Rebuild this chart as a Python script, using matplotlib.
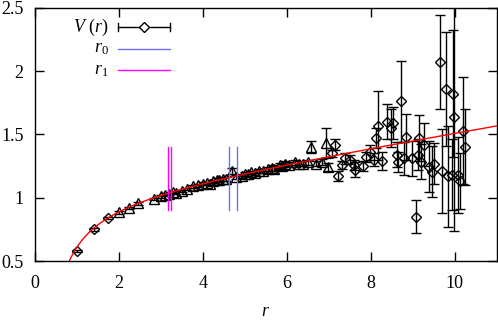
import numpy as np
import matplotlib
matplotlib.use("Agg")
import matplotlib.pyplot as plt

plt.rcParams['font.family'] = ['Liberation Serif', 'DejaVu Serif']
plt.rcParams['mathtext.fontset'] = 'custom'
plt.rcParams['mathtext.rm'] = 'Liberation Serif'
plt.rcParams['mathtext.it'] = 'Liberation Serif:italic'

# V(r) data: diamonds
r_d = [1.00, 1.41, 1.75, 7.07, 7.15, 7.23, 7.31, 7.39, 7.50, 7.60, 7.63, 7.82, 7.89, 7.98,
       8.08, 8.13, 8.18, 8.28, 8.38, 8.48, 8.54, 8.62, 8.66, 8.72, 8.79, 8.84, 8.98, 9.08,
       9.13, 9.16, 9.20, 9.27, 9.39, 9.45, 9.50, 9.65, 9.71, 9.79, 9.85, 9.93, 9.95, 9.99,
       10.09, 10.13, 10.20, 10.25]
v_d = [0.58, 0.75, 0.84, 1.35, 1.42, 1.17, 1.26, 1.31, 1.30, 1.26, 1.22, 1.25, 1.32, 1.36,
       1.30, 1.47, 1.57, 1.29, 1.60, 1.55, 1.59, 1.34, 1.285, 1.76, 1.31, 1.48, 1.31, 0.85,
       1.34, 1.47, 1.285, 1.42, 1.245, 1.205, 1.27, 2.07, 1.21, 1.86, 1.17, 1.18, 1.82, 1.635,
       1.18, 1.13, 1.53, 1.40]
e_d = [0.01, 0.01, 0.01, 0.03, 0.04, 0.04, 0.03, 0.04, 0.035, 0.04, 0.06, 0.04, 0.04, 0.06,
       0.05, 0.08, 0.27, 0.07, 0.14, 0.15, 0.13, 0.10, 0.08, 0.32, 0.13, 0.18, 0.14, 0.13,
       0.12, 0.18, 0.14, 0.17, 0.20, 0.20, 0.16, 0.37, 0.33, 0.45, 0.40, 0.28, 0.50, 0.90,
       0.30, 0.22, 0.42, 0.30]

# triangles
r_t = [2.00, 2.25, 2.45, 2.84, 3.00, 3.10, 3.20, 3.30, 3.36, 3.50, 3.62, 3.78, 3.90, 4.01,
       4.10, 4.17, 4.25, 4.33, 4.40, 4.48, 4.55, 4.69, 4.80, 4.93, 5.00, 5.09, 5.15, 5.25,
       5.35, 5.44, 5.55, 5.64, 5.70, 5.84, 5.90, 5.96, 6.05, 6.20, 6.30, 6.40, 6.50, 6.57,
       6.71, 6.85, 6.94, 6.99]
v_t = [0.885, 0.92, 0.955, 0.99, 1.01, 1.025, 1.03, 1.045, 1.04, 1.055, 1.07, 1.09, 1.10, 1.11,
       1.115, 1.11, 1.13, 1.14, 1.14, 1.15, 1.15, 1.21, 1.165, 1.17, 1.185, 1.19, 1.20, 1.195,
       1.21, 1.21, 1.225, 1.235, 1.23, 1.255, 1.25, 1.27, 1.26, 1.28, 1.27, 1.27, 1.28, 1.40,
       1.27, 1.28, 1.43, 1.245]
e_t = [0.01, 0.01, 0.01, 0.01, 0.01, 0.01, 0.01, 0.01, 0.01, 0.01, 0.01, 0.012, 0.012, 0.012,
       0.012, 0.012, 0.012, 0.012, 0.012, 0.015, 0.015, 0.025, 0.015, 0.015, 0.015, 0.015, 0.015, 0.015,
       0.015, 0.015, 0.015, 0.02, 0.02, 0.02, 0.02, 0.02, 0.02, 0.02, 0.02, 0.02, 0.02, 0.05,
       0.02, 0.025, 0.12, 0.03]

# fit parameters  V(r) = c + s*r - a/r
fit_c, fit_s, fit_a = 1.0025, 0.055, 0.45

r0 = [4.63, 4.81]
r1 = [3.18, 3.245]
vspan = [0.9, 1.4]

fig = plt.figure(figsize=(4.98, 3.2), dpi=100)
ax = fig.add_axes([0.0697, 0.184, 0.9275, 0.792])

ax.errorbar(r_t, v_t, yerr=e_t, fmt='^', mfc='none', mec='black', ecolor='black',
            ms=7, mew=1.0, elinewidth=1.0, capsize=3.6, capthick=1.0, zorder=2)
ax.errorbar(r_d, v_d, yerr=e_d, fmt='D', mfc='none', mec='black', ecolor='black',
            ms=5.5, mew=1.0, elinewidth=1.0, capsize=3.6, capthick=1.0, zorder=2)

rr = np.linspace(0.7, 11.2, 400)
ax.plot(rr, fit_c + fit_s * rr - fit_a / rr, color='#ff0000', lw=1.0, zorder=3)

for x in r0:
    ax.plot([x, x], vspan, color='#7070ff', lw=1.0, zorder=4)
for x in r1:
    ax.plot([x, x], vspan, color='#ff00ff', lw=1.0, zorder=4)

ax.set_xlim(0, 11)
ax.set_ylim(0.5, 2.5)
ax.set_xticks([0, 2, 4, 6, 8, 10])
ax.set_yticks([0.5, 1, 1.5, 2, 2.5])
ax.set_yticklabels(['0.5', '1', '1.5', '2', '2.5'])
ax.tick_params(direction='in', length=6.5, width=1.0, top=True, right=True,
               labelsize=13)
ax.tick_params(axis='x', pad=10)
ax.tick_params(axis='y', pad=8)
for sp in ax.spines.values():
    sp.set_linewidth(1.0)
ax.set_xlabel('$r$', fontsize=13, labelpad=8)

# legend (drawn manually, gnuplot style)
T = ax.transAxes
ys = [0.924, 0.837, 0.754]
labels = ['$V\\ (r)$', '$r_0$', '$r_1$']
x0, x1 = 0.180, 0.293
for y, lab in zip(ys, labels):
    ax.text(0.160, y, lab, transform=T, ha='right', va='center', fontsize=13)
ax.plot([x0, x1], [ys[0], ys[0]], transform=T, color='black', lw=1.0, clip_on=False)
ax.plot([x0, x0], [ys[0] - 0.016, ys[0] + 0.016], transform=T, color='black', lw=1.0)
ax.plot([x1, x1], [ys[0] - 0.016, ys[0] + 0.016], transform=T, color='black', lw=1.0)
ax.plot([(x0 + x1) / 2], [ys[0]], transform=T, marker='D', ms=5.5, mfc='white',
        mec='black', mew=1.0)
ax.plot([x0, x1], [ys[1], ys[1]], transform=T, color='#7070ff', lw=1.0)
ax.plot([x0, x1], [ys[2], ys[2]], transform=T, color='#ff00ff', lw=1.0)

fig.savefig('out.png', dpi=100)
